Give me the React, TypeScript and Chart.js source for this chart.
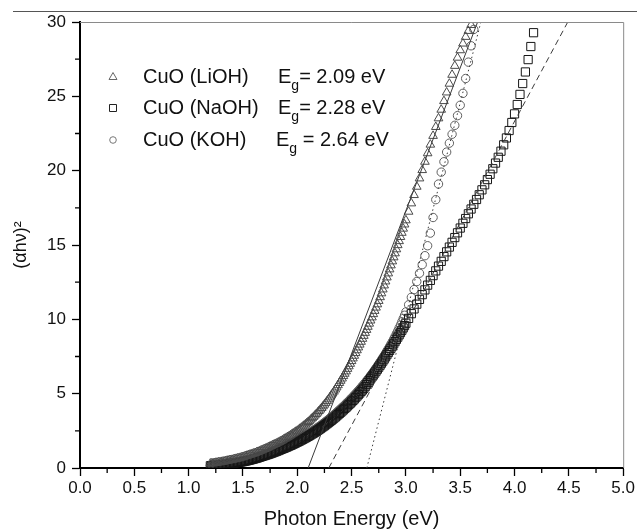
import React, { useEffect, useRef } from 'react';
import { Chart, registerables } from 'chart.js';

Chart.register(...registerables);

// Photon energy grid (eV) shared by the three series (denser below 3 eV, as in the measured data)
const energy = [
  1.2000, 1.2125, 1.2250, 1.2375, 1.2500, 1.2625, 1.2750, 1.2875, 1.3000, 1.3125,
  1.3250, 1.3375, 1.3500, 1.3625, 1.3750, 1.3875, 1.4000, 1.4125, 1.4250, 1.4375,
  1.4500, 1.4625, 1.4750, 1.4875, 1.5000, 1.5125, 1.5250, 1.5375, 1.5500, 1.5625,
  1.5750, 1.5875, 1.6000, 1.6125, 1.6250, 1.6375, 1.6500, 1.6625, 1.6750, 1.6875,
  1.7000, 1.7125, 1.7250, 1.7375, 1.7500, 1.7625, 1.7750, 1.7875, 1.8000, 1.8125,
  1.8250, 1.8375, 1.8500, 1.8625, 1.8750, 1.8875, 1.9000, 1.9125, 1.9250, 1.9375,
  1.9500, 1.9625, 1.9750, 1.9875, 2.0000, 2.0125, 2.0250, 2.0375, 2.0500, 2.0625,
  2.0750, 2.0875, 2.1000, 2.1125, 2.1250, 2.1375, 2.1500, 2.1625, 2.1750, 2.1875,
  2.2000, 2.2125, 2.2250, 2.2375, 2.2500, 2.2625, 2.2750, 2.2875, 2.3000, 2.3125,
  2.3250, 2.3375, 2.3500, 2.3625, 2.3750, 2.3875, 2.4000, 2.4125, 2.4250, 2.4375,
  2.4500, 2.4625, 2.4750, 2.4875, 2.5000, 2.5125, 2.5250, 2.5375, 2.5500, 2.5625,
  2.5750, 2.5875, 2.6000, 2.6125, 2.6250, 2.6375, 2.6500, 2.6625, 2.6750, 2.6875,
  2.7000, 2.7125, 2.7250, 2.7375, 2.7500, 2.7625, 2.7750, 2.7875, 2.8000, 2.8125,
  2.8250, 2.8375, 2.8500, 2.8625, 2.8750, 2.8875, 2.9000, 2.9125, 2.9250, 2.9375,
  2.9500, 2.9625, 2.9750, 2.9875, 3.0000,
  3.025, 3.050, 3.075, 3.100, 3.125, 3.150, 3.175, 3.200, 3.225, 3.250,
  3.275, 3.300, 3.325, 3.350, 3.375, 3.400, 3.425, 3.450, 3.475, 3.500,
  3.525, 3.550, 3.575, 3.600, 3.625, 3.650, 3.675, 3.700, 3.725, 3.750,
  3.775, 3.800, 3.825, 3.850, 3.875, 3.900, 3.925, 3.950, 3.975, 4.000,
  4.025, 4.050, 4.075, 4.100, 4.125, 4.150, 4.175,
];

// (alpha h nu)^2 for CuO (LiOH) — triangles
const liohValues = [
  0.30, 0.31, 0.32, 0.33, 0.35, 0.36, 0.38, 0.39, 0.41, 0.42,
  0.44, 0.46, 0.48, 0.50, 0.52, 0.53, 0.55, 0.57, 0.60, 0.62,
  0.64, 0.66, 0.69, 0.71, 0.74, 0.77, 0.80, 0.83, 0.86, 0.89,
  0.92, 0.95, 0.98, 1.01, 1.05, 1.08, 1.12, 1.16, 1.20, 1.24,
  1.28, 1.32, 1.36, 1.40, 1.45, 1.49, 1.54, 1.58, 1.62, 1.66,
  1.71, 1.76, 1.81, 1.86, 1.92, 1.97, 2.03, 2.08, 2.14, 2.20,
  2.26, 2.32, 2.38, 2.44, 2.50, 2.57, 2.64, 2.71, 2.78, 2.85,
  2.93, 3.01, 3.09, 3.17, 3.26, 3.35, 3.44, 3.53, 3.63, 3.73,
  3.83, 3.93, 4.04, 4.15, 4.26, 4.38, 4.50, 4.62, 4.75, 4.88,
  5.01, 5.14, 5.28, 5.42, 5.57, 5.72, 5.87, 6.02, 6.18, 6.34,
  6.50, 6.67, 6.84, 7.01, 7.19, 7.37, 7.55, 7.73, 7.92, 8.11,
  8.30, 8.49, 8.69, 8.89, 9.09, 9.29, 9.50, 9.71, 9.92, 10.13,
  10.35, 10.57, 10.79, 11.01, 11.24, 11.49, 11.75, 12.01, 12.28, 12.55,
  12.82, 13.09, 13.36, 13.63, 13.90, 14.17, 14.44, 14.71, 14.99, 15.26,
  15.54, 15.82, 16.10, 16.38, 16.66,
  17.24, 17.80, 18.36, 18.92, 19.48, 20.04, 20.60, 21.17, 21.75, 22.34,
  22.94, 23.52, 24.10, 24.68, 25.26, 25.85, 26.45, 27.05, 27.60, 28.10,
  28.55, 29.00, 29.40, 29.80,
];

// CuO (NaOH) — squares
const naohValues = [
  0.15, 0.155, 0.16, 0.17, 0.18, 0.19, 0.20, 0.21, 0.22, 0.23,
  0.24, 0.25, 0.26, 0.275, 0.29, 0.30, 0.31, 0.325, 0.34, 0.355,
  0.37, 0.385, 0.40, 0.415, 0.43, 0.45, 0.47, 0.49, 0.51, 0.535,
  0.56, 0.585, 0.61, 0.635, 0.66, 0.69, 0.72, 0.75, 0.78, 0.81,
  0.84, 0.87, 0.90, 0.93, 0.96, 0.995, 1.03, 1.065, 1.10, 1.135,
  1.17, 1.21, 1.25, 1.285, 1.32, 1.36, 1.40, 1.44, 1.48, 1.52,
  1.56, 1.605, 1.65, 1.695, 1.74, 1.785, 1.83, 1.88, 1.93, 1.98,
  2.03, 2.08, 2.13, 2.185, 2.24, 2.295, 2.35, 2.41, 2.47, 2.53,
  2.59, 2.655, 2.72, 2.785, 2.85, 2.92, 2.99, 3.06, 3.13, 3.205,
  3.28, 3.355, 3.43, 3.51, 3.59, 3.67, 3.75, 3.835, 3.92, 4.005,
  4.09, 4.18, 4.27, 4.36, 4.45, 4.545, 4.64, 4.74, 4.84, 4.94,
  5.04, 5.145, 5.25, 5.36, 5.47, 5.61, 5.75, 5.875, 6.00, 6.125,
  6.25, 6.38, 6.51, 6.645, 6.78, 6.915, 7.05, 7.19, 7.33, 7.475,
  7.62, 7.765, 7.91, 8.055, 8.20, 8.35, 8.50, 8.65, 8.80, 8.955,
  9.11, 9.265, 9.42, 9.58, 9.74,
  10.06, 10.38, 10.70, 11.02, 11.34, 11.66, 11.98, 12.30, 12.62, 12.94,
  13.26, 13.58, 13.90, 14.22, 14.54, 14.86, 15.18, 15.50, 15.82, 16.14,
  16.46, 16.78, 17.10, 17.42, 17.74, 18.06, 18.38, 18.71, 19.05, 19.40,
  19.76, 20.13, 20.51, 20.90, 21.31, 21.74, 22.20, 22.70, 23.24, 23.82,
  24.45, 25.13, 25.86, 26.64, 27.47, 28.35, 29.28,
];

// CuO (KOH) — circles
const kohValues = [
  0.18, 0.185, 0.19, 0.20, 0.21, 0.22, 0.23, 0.24, 0.25, 0.26,
  0.27, 0.28, 0.29, 0.305, 0.32, 0.33, 0.34, 0.355, 0.37, 0.385,
  0.40, 0.415, 0.43, 0.445, 0.46, 0.48, 0.50, 0.52, 0.54, 0.565,
  0.59, 0.615, 0.64, 0.665, 0.69, 0.72, 0.75, 0.78, 0.81, 0.84,
  0.87, 0.905, 0.94, 0.975, 1.01, 1.045, 1.08, 1.12, 1.16, 1.20,
  1.24, 1.28, 1.32, 1.36, 1.40, 1.445, 1.49, 1.535, 1.58, 1.625,
  1.67, 1.72, 1.77, 1.82, 1.87, 1.92, 1.97, 2.025, 2.08, 2.135,
  2.19, 2.245, 2.30, 2.36, 2.42, 2.48, 2.54, 2.60, 2.66, 2.725,
  2.79, 2.855, 2.92, 2.99, 3.06, 3.13, 3.20, 3.275, 3.35, 3.425,
  3.50, 3.58, 3.66, 3.74, 3.82, 3.905, 3.99, 4.075, 4.16, 4.25,
  4.34, 4.43, 4.52, 4.615, 4.71, 4.805, 4.90, 5.00, 5.10, 5.205,
  5.31, 5.415, 5.52, 5.63, 5.74, 5.855, 5.97, 6.09, 6.21, 6.335,
  6.46, 6.59, 6.72, 6.855, 6.99, 7.13, 7.27, 7.415, 7.56, 7.71,
  7.86, 8.015, 8.17, 8.335, 8.50, 8.675, 8.85, 9.035, 9.22, 9.42,
  9.62, 9.835, 10.05, 10.275, 10.50,
  10.98, 11.48, 12.00, 12.54, 13.10, 13.68, 14.28, 14.95, 15.80, 16.85,
  18.05, 19.10, 19.90, 20.60, 21.25, 21.85, 22.45, 23.05, 23.70, 24.40,
  25.20, 26.20, 27.30, 28.40, 29.50,
];

const seriesNames = ['CuO (LiOH)', 'CuO (NaOH)', 'CuO (KOH)'];
const bandGapLabels = ['= 2.09 eV', '= 2.28 eV', ' = 2.64 eV'];
// Tauc-fit extrapolation lines: x at y = 0 and x at y = 30
const fitStart = [2.10, 2.29, 2.64];
const fitEnd = [3.66, 4.49, 3.69];

const xMin = 0, xMax = 5, xStep = 0.5;
const yMin = 0, yMax = 30, yStep = 5;
const xMinorTicks = [0.25, 0.75, 1.25, 1.75, 2.25, 2.75, 3.25, 3.75, 4.25, 4.75];
const yMinorTicks = [2.5, 7.5, 12.5, 17.5, 22.5, 27.5];

const FONT = '"Liberation Sans", Arial, Helvetica, sans-serif';
const markerColors = ['#4a4a4a', '#161616', '#5e5e5e'];
const legendMarkerColors = ['#666', '#222', '#777'];
const markerStyles = ['triangle', 'rect', 'circle'];
const markerRadii = [5.0, 5.8, 4.2];
const fitDashes = [[], [6, 4], [1.5, 3]];

const framePlugin = {
  id: 'frameAndMinor',
  afterDraw(chart: any) {
    const { ctx, chartArea: ca, scales } = chart;
    const xs = scales.x, ys = scales.y;
    ctx.save();
    ctx.strokeStyle = '#555';
    ctx.lineWidth = 1;
    ctx.beginPath();
    ctx.moveTo(13, 11.5);
    ctx.lineTo(637, 11.5);
    ctx.stroke();
    ctx.strokeStyle = '#8a8a8a';
    ctx.beginPath();
    ctx.moveTo(ca.left, ca.top + 0.5);
    ctx.lineTo(ca.right + 0.5, ca.top + 0.5);
    ctx.lineTo(ca.right + 0.5, ca.bottom);
    ctx.stroke();
    ctx.strokeStyle = '#000';
    ctx.lineWidth = 1.3;
    ctx.beginPath();
    for (const v of xMinorTicks) {
      const p = xs.getPixelForValue(v);
      ctx.moveTo(p, ca.bottom);
      ctx.lineTo(p, ca.bottom + 5);
    }
    for (const v of yMinorTicks) {
      const p = ys.getPixelForValue(v);
      ctx.moveTo(ca.left, p);
      ctx.lineTo(ca.left - 5, p);
    }
    ctx.stroke();
    ctx.restore();
  },
};

function drawMarker(ctx: CanvasRenderingContext2D, style: string, x: number, y: number) {
  ctx.beginPath();
  if (style === 'triangle') {
    ctx.moveTo(x, y - 4.5);
    ctx.lineTo(x + 4, y + 2.5);
    ctx.lineTo(x - 4, y + 2.5);
    ctx.closePath();
  } else if (style === 'rect') {
    ctx.rect(x - 3.5, y - 3.5, 7, 7);
  } else {
    ctx.arc(x, y, 3.3, 0, Math.PI * 2);
  }
  ctx.stroke();
}

const legendPlugin = {
  id: 'insideLegend',
  afterDatasetsDraw(chart: any) {
    const { ctx } = chart;
    const rowsY = [77, 108, 140];
    const egX = [278, 278, 276];
    ctx.save();
    for (let i = 0; i < seriesNames.length; i++) {
      const y = rowsY[i];
      ctx.strokeStyle = legendMarkerColors[i];
      ctx.lineWidth = 1;
      drawMarker(ctx, markerStyles[i], 113, y);
      ctx.fillStyle = '#111';
      ctx.textBaseline = 'middle';
      ctx.textAlign = 'left';
      ctx.font = `20px ${FONT}`;
      ctx.fillText(seriesNames[i], 143, y);
      const ex = egX[i];
      ctx.fillText('E', ex, y);
      const eW = ctx.measureText('E').width;
      ctx.font = `14px ${FONT}`;
      ctx.fillText('g', ex + eW, y + 9);
      const gW = ctx.measureText('g').width;
      ctx.font = `20px ${FONT}`;
      ctx.fillText(bandGapLabels[i], ex + eW + gW, y);
    }
    ctx.restore();
  },
};

export default function App() {
  const ref = useRef<HTMLCanvasElement>(null);

  useEffect(() => {
    const canvas = ref.current;
    if (!canvas) return;
    const toPts = (ys: number[]) => ys.map((y, i) => ({ x: energy[i], y }));
    const seriesValues = [liohValues, naohValues, kohValues];

    const scatterSets = seriesValues.map((vals, i) => ({
      type: 'scatter' as const,
      label: seriesNames[i],
      data: toPts(vals),
      showLine: false,
      pointStyle: markerStyles[i],
      pointRadius: markerRadii[i],
      pointBorderWidth: 1,
      borderColor: markerColors[i],
      backgroundColor: 'rgba(0,0,0,0)',
      pointBackgroundColor: 'rgba(0,0,0,0)',
      pointBorderColor: markerColors[i],
    }));

    const fitSets = fitStart.map((xs, i) => ({
      type: 'scatter' as const,
      label: 'fit ' + seriesNames[i],
      data: [{ x: xs, y: yMin }, { x: fitEnd[i], y: yMax }],
      showLine: true,
      borderColor: '#3a3a3a',
      borderWidth: 1,
      borderDash: fitDashes[i],
      pointRadius: 0,
      fill: false,
    }));

    const chart = new Chart(canvas, {
      type: 'scatter',
      data: { datasets: [...fitSets, ...scatterSets] as any },
      options: {
        responsive: false,
        animation: false,
        events: [],
        layout: { padding: { left: 0, right: 12, top: 22, bottom: 0 } },
        plugins: {
          legend: { display: false },
          tooltip: { enabled: false },
          title: { display: false },
        },
        scales: {
          x: {
            type: 'linear',
            min: xMin,
            max: xMax,
            afterFit: (s: any) => { s.height = 63; },
            border: { display: true, color: '#000', width: 2 },
            grid: { drawOnChartArea: false, drawTicks: true, tickLength: 8, tickColor: '#000', tickWidth: 1.3 },
            ticks: {
              stepSize: xStep,
              autoSkip: false,
              maxRotation: 0,
              padding: 2,
              color: '#111',
              font: { family: FONT, size: 17 },
              callback: (v: any) => Number(v).toFixed(1),
            },
            title: {
              display: true,
              text: 'Photon Energy (eV)',
              color: '#111',
              font: { family: FONT, size: 20 },
              padding: { top: 0, bottom: 0 },
            },
          },
          y: {
            type: 'linear',
            min: yMin,
            max: yMax,
            afterFit: (s: any) => { s.width = 80; },
            border: { display: true, color: '#000', width: 2 },
            grid: { drawOnChartArea: false, drawTicks: true, tickLength: 8, tickColor: '#000', tickWidth: 1.3 },
            ticks: {
              stepSize: yStep,
              autoSkip: false,
              padding: 6,
              color: '#111',
              font: { family: FONT, size: 17 },
              callback: (v: any) => String(v),
            },
            title: {
              display: true,
              text: '(\u03B1h\u03BD)\u00B2',
              color: '#111',
              font: { family: FONT, size: 18 },
              padding: { top: 10, bottom: 0 },
            },
          },
        },
      },
      plugins: [framePlugin, legendPlugin],
    });

    return () => chart.destroy();
  }, []);

  return (
    <div style={{ position: 'fixed', left: 0, top: 0, width: 637, height: 531, background: '#fff' }}>
      <canvas ref={ref} width={637} height={531} style={{ display: 'block', width: 637, height: 531 }} />
    </div>
  );
}
